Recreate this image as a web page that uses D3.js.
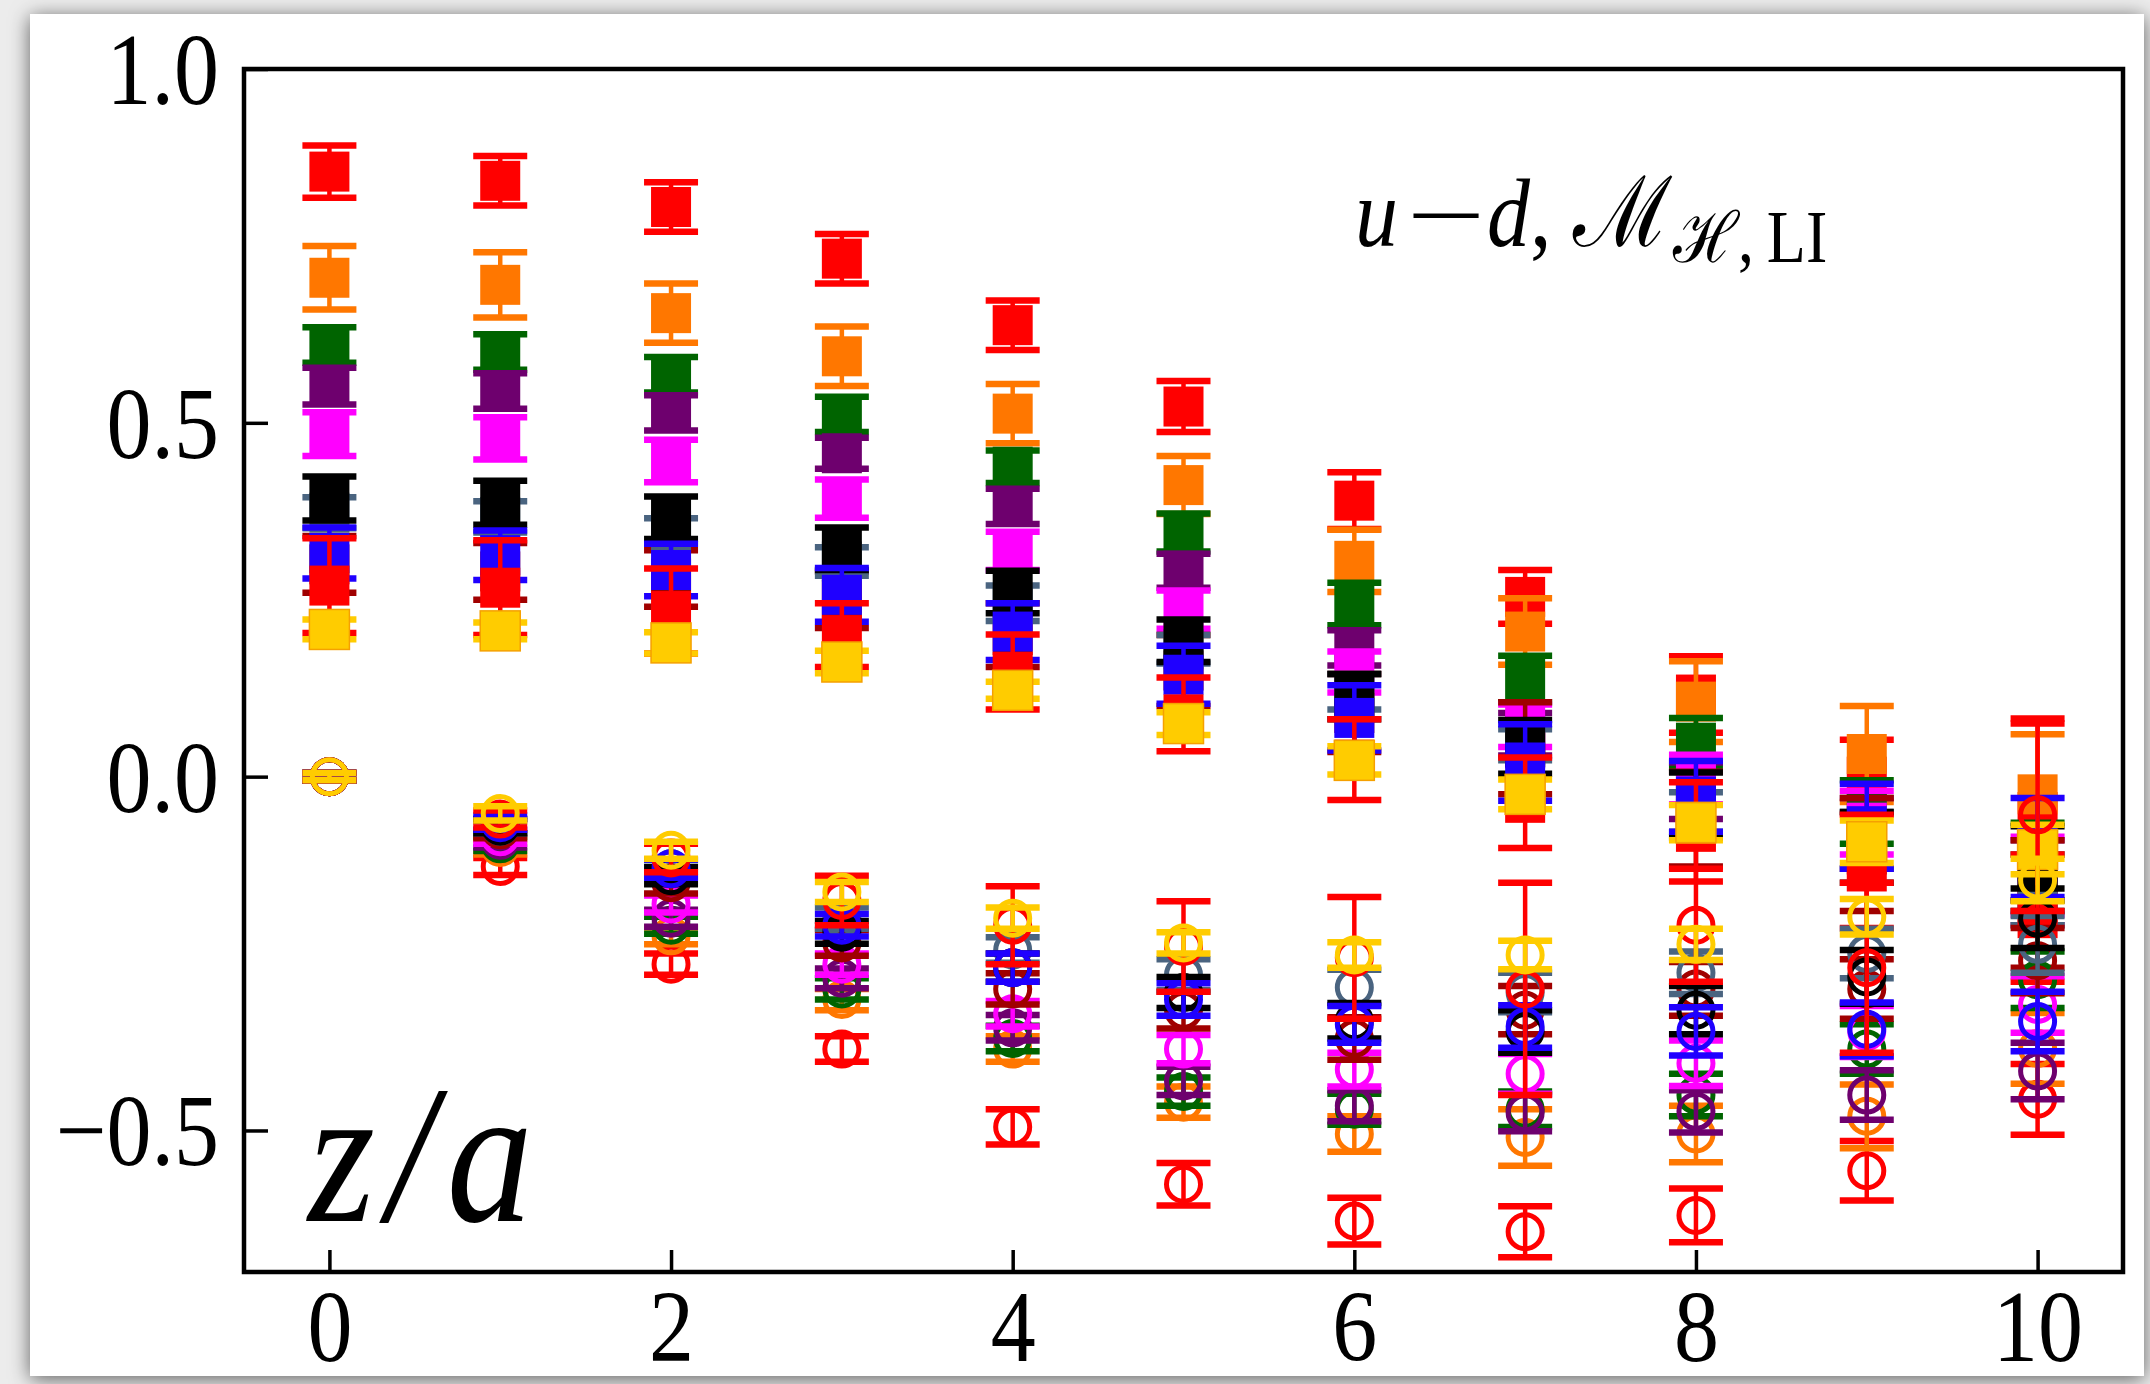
<!DOCTYPE html>
<html>
<head>
<meta charset="utf-8">
<script src="https://cdn.jsdelivr.net/npm/d3@7"></script>
<style>
  body { margin: 0; background: #ececec; }
  svg { display: block; }
  text { font-family: "Liberation Serif", "Times New Roman", serif; }
</style>
</head>
<body>
<div id="chart"></div>
<script>
// z/a positions
const zValues = [0, 1, 2, 3, 4, 5, 6, 7, 8, 9, 10];

// real parts (filled squares) and their errors, one pair per ensemble
const reRed1    = [0.855, 0.842, 0.805, 0.732, 0.638, 0.523, 0.39, 0.254, 0.116, 0.0, -0.05];
const reRed1Err = [0.037, 0.035, 0.035, 0.035, 0.035, 0.036, 0.04, 0.038, 0.054, 0.052, 0.125];
const reOrange    = [0.705, 0.695, 0.655, 0.594, 0.513, 0.412, 0.305, 0.205, 0.106, 0.032, -0.025];
const reOrangeErr = [0.045, 0.046, 0.042, 0.042, 0.042, 0.041, 0.044, 0.047, 0.057, 0.068, 0.085];
const reGreen    = [0.61, 0.6, 0.568, 0.512, 0.438, 0.345, 0.244, 0.138, 0.048, -0.05, -0.12];
const reGreenErr = [0.025, 0.025, 0.025, 0.025, 0.023, 0.027, 0.03, 0.033, 0.035, 0.045, 0.055];
const rePurple    = [0.552, 0.545, 0.514, 0.457, 0.382, 0.291, 0.182, 0.06, -0.02, -0.08, -0.15];
const rePurpleErr = [0.026, 0.025, 0.025, 0.022, 0.025, 0.024, 0.025, 0.03, 0.04, 0.05, 0.06];
const reMagenta    = [0.484, 0.478, 0.446, 0.393, 0.319, 0.236, 0.148, 0.072, -0.004, -0.065, -0.14];
const reMagentaErr = [0.031, 0.03, 0.03, 0.027, 0.027, 0.027, 0.029, 0.03, 0.035, 0.045, 0.055];
const reDarkRed    = [0.3, 0.29, 0.28, 0.25, 0.2, 0.15, 0.09, 0.04, -0.06, -0.11, -0.18];
const reDarkRedErr = [0.04, 0.04, 0.04, 0.04, 0.045, 0.05, 0.055, 0.065, 0.067, 0.08, 0.09];
const reSlate    = [0.373, 0.367, 0.347, 0.304, 0.245, 0.18, 0.12, 0.045, -0.05, -0.09, -0.16];
const reSlateErr = [0.022, 0.022, 0.018, 0.02, 0.025, 0.02, 0.025, 0.022, 0.028, 0.04, 0.05];
const reBlack    = [0.393, 0.387, 0.366, 0.322, 0.261, 0.192, 0.113, 0.042, -0.04, -0.1, -0.13];
const reBlackErr = [0.031, 0.031, 0.03, 0.03, 0.03, 0.03, 0.032, 0.038, 0.046, 0.05, 0.06];
const reBlue    = [0.316, 0.313, 0.292, 0.257, 0.205, 0.144, 0.083, 0.02, -0.028, -0.07, -0.1];
const reBlueErr = [0.036, 0.035, 0.037, 0.038, 0.04, 0.041, 0.046, 0.054, 0.05, 0.06, 0.07];
const reRed2    = [0.27, 0.267, 0.234, 0.2, 0.148, 0.088, 0.024, -0.037, -0.078, -0.134, -0.2];
const reRed2Err = [0.067, 0.067, 0.06, 0.045, 0.053, 0.052, 0.057, 0.064, 0.07, 0.08, 0.09];
const reGold    = [0.208, 0.206, 0.189, 0.162, 0.122, 0.075, 0.023, -0.025, -0.065, -0.092, -0.103];
const reGoldErr = [0.014, 0.012, 0.015, 0.016, 0.012, 0.016, 0.02, 0.021, 0.025, 0.03, 0.035];

// imaginary parts (open circles) and their errors
const imRed1    = [0, -0.127, -0.265, -0.385, -0.495, -0.576, -0.628, -0.643, -0.62, -0.557, -0.456];
const imRed1Err = [0.005, 0.012, 0.015, 0.018, 0.025, 0.03, 0.033, 0.036, 0.038, 0.042, 0.05];
const imOrange    = [0, -0.1, -0.225, -0.315, -0.385, -0.46, -0.505, -0.51, -0.505, -0.48, -0.384];
const imOrangeErr = [0.005, 0.01, 0.012, 0.015, 0.018, 0.022, 0.025, 0.04, 0.04, 0.045, 0.05];
const imGreen    = [0, -0.095, -0.21, -0.3, -0.37, -0.445, -0.47, -0.47, -0.45, -0.385, -0.287];
const imGreenErr = [0.005, 0.01, 0.012, 0.015, 0.018, 0.02, 0.022, 0.025, 0.03, 0.035, 0.04];
const imPurple    = [0, -0.09, -0.2, -0.285, -0.355, -0.43, -0.465, -0.475, -0.473, -0.45, -0.416];
const imPurpleErr = [0.005, 0.01, 0.012, 0.014, 0.018, 0.02, 0.022, 0.026, 0.03, 0.035, 0.04];
const imMagenta    = [0, -0.085, -0.18, -0.265, -0.335, -0.385, -0.414, -0.42, -0.405, -0.36, -0.322];
const imMagentaErr = [0.005, 0.01, 0.012, 0.015, 0.018, 0.02, 0.024, 0.028, 0.032, 0.036, 0.04];
const imDarkRed    = [0, -0.075, -0.15, -0.235, -0.3, -0.33, -0.37, -0.33, -0.3, -0.3, -0.26];
const imDarkRedErr = [0.005, 0.012, 0.015, 0.018, 0.022, 0.026, 0.03, 0.034, 0.038, 0.042, 0.046];
const imSlate    = [0, -0.07, -0.13, -0.2, -0.245, -0.28, -0.298, -0.305, -0.277, -0.25, -0.237];
const imSlateErr = [0.005, 0.01, 0.012, 0.015, 0.018, 0.022, 0.025, 0.028, 0.03, 0.035, 0.04];
const imBlack    = [0, -0.07, -0.14, -0.22, -0.27, -0.305, -0.345, -0.36, -0.33, -0.283, -0.2];
const imBlackErr = [0.005, 0.01, 0.012, 0.016, 0.02, 0.022, 0.025, 0.03, 0.034, 0.038, 0.042];
const imBlue    = [0, -0.065, -0.13, -0.21, -0.27, -0.315, -0.35, -0.353, -0.36, -0.357, -0.346];
const imBlueErr = [0.005, 0.01, 0.013, 0.016, 0.02, 0.023, 0.026, 0.03, 0.034, 0.038, 0.042];
const imRed2    = [0, -0.06, -0.115, -0.175, -0.21, -0.24, -0.256, -0.3, -0.21, -0.27, -0.054];
const imRed2Err = [0.005, 0.012, 0.02, 0.035, 0.055, 0.064, 0.086, 0.15, 0.08, 0.12, 0.136];
const imGold    = [0, -0.052, -0.104, -0.163, -0.2, -0.235, -0.252, -0.252, -0.237, -0.198, -0.146];
const imGoldErr = [0.005, 0.01, 0.012, 0.014, 0.015, 0.015, 0.018, 0.02, 0.022, 0.025, 0.03];

const yTicks = [-0.5, 0.0, 0.5, 1.0];
const xTicks = [0, 2, 4, 6, 8, 10];

// drawing order matters: later series sit on top
const seriesList = [
    { color: "#ff0000", re: reRed1, reErr: reRed1Err, im: imRed1, imErr: imRed1Err },
    { color: "#ff7700", re: reOrange, reErr: reOrangeErr, im: imOrange, imErr: imOrangeErr },
    { color: "#006400", re: reGreen, reErr: reGreenErr, im: imGreen, imErr: imGreenErr },
    { color: "#6e006e", re: rePurple, reErr: rePurpleErr, im: imPurple, imErr: imPurpleErr },
    { color: "#ff00ff", re: reMagenta, reErr: reMagentaErr, im: imMagenta, imErr: imMagentaErr },
    { color: "#a00000", re: reDarkRed, reErr: reDarkRedErr, im: imDarkRed, imErr: imDarkRedErr },
    { color: "#4a6480", re: reSlate, reErr: reSlateErr, im: imSlate, imErr: imSlateErr },
    { color: "#000000", re: reBlack, reErr: reBlackErr, im: imBlack, imErr: imBlackErr },
    { color: "#1f00ff", re: reBlue, reErr: reBlueErr, im: imBlue, imErr: imBlueErr },
    { color: "#ff0000", re: reRed2, reErr: reRed2Err, im: imRed2, imErr: imRed2Err },
    { color: "#ffcc00", re: reGold, reErr: reGoldErr, im: imGold, imErr: imGoldErr }
];

const width = 2150, height = 1384;
//plot frame
const frame = { left: 244, right: 2123, top: 69, bottom: 1272 };
//text in the picture is slightly stretched vertically
const stretch = 1.14;

const x = d3.scaleLinear().domain([-0.5, 10.5]).range([frame.left, frame.right]);
const y = d3.scaleLinear().domain([-0.7, 1.0]).range([frame.bottom, frame.top]);

const svg = d3.select("#chart")
    .append("svg")
        .attr("width", width)
        .attr("height", height);

//card with drop shadow
const defs = svg.append("defs");
const shadow = defs.append("filter")
    .attr("id", "card-shadow")
    .attr("x", "-5%").attr("y", "-5%")
    .attr("width", "110%").attr("height", "110%");
shadow.append("feDropShadow")
    .attr("dx", 0).attr("dy", 3)
    .attr("stdDeviation", 10)
    .attr("flood-color", "#000")
    .attr("flood-opacity", 0.6);

svg.append("rect")
    .attr("x", 30).attr("y", 14)
    .attr("width", 2114).attr("height", 1362)
    .attr("fill", "#fff")
    .attr("filter", "url(#card-shadow)");

//clip data to the frame
defs.append("clipPath").attr("id", "plot-clip")
    .append("rect")
        .attr("x", frame.left).attr("y", frame.top)
        .attr("width", frame.right - frame.left)
        .attr("height", frame.bottom - frame.top);

const dataLayer = svg.append("g").attr("clip-path", "url(#plot-clip)");

const capHalf = 27;
const squareSize = 40;
const circleR = 17;

function drawErrorbars(series, key, errKey, shape) {
    const rows = zValues.map((z, i) => ({ z: z, v: series[key][i], e: series[errKey][i] }));
    const g = dataLayer.append("g")
        .attr("fill", series.color)
        .attr("stroke", series.color);

    const pts = g.selectAll("g")
        .data(rows)
        .join("g");

    //vertical error line
    pts.append("line")
        .attr("x1", d => x(d.z)).attr("x2", d => x(d.z))
        .attr("y1", d => y(d.v + d.e)).attr("y2", d => y(d.v - d.e))
        .attr("stroke-width", 4.5);

    //caps
    [1, -1].forEach(sign => {
        pts.append("line")
            .attr("x1", d => x(d.z) - capHalf).attr("x2", d => x(d.z) + capHalf)
            .attr("y1", d => y(d.v + sign * d.e)).attr("y2", d => y(d.v + sign * d.e))
            .attr("stroke-width", 6.5);
    });

    if(shape === "square") {
        pts.append("rect")
            .attr("x", d => x(d.z) - squareSize / 2)
            .attr("y", d => y(d.v) - squareSize / 2)
            .attr("width", squareSize)
            .attr("height", squareSize)
            .attr("stroke", series.color === "#ffcc00" ? "#f5a000" : "none")
            .attr("stroke-width", 1.5);
    } else {
        pts.append("circle")
            .attr("cx", d => x(d.z))
            .attr("cy", d => y(d.v))
            .attr("r", circleR)
            .attr("fill", "none")
            .attr("stroke-width", 5);
    }
}

//real parts first, imaginary parts on top
seriesList.forEach(s => drawErrorbars(s, "re", "reErr", "square"));
seriesList.forEach(s => drawErrorbars(s, "im", "imErr", "circle"));

//axes, ticks pointing inward
const yAxis = d3.axisLeft(y)
    .tickValues(yTicks)
    .tickFormat(d3.format(".1f"))
    .tickSize(-24)
    .tickPadding(25);

const xAxis = d3.axisBottom(x)
    .tickValues(xTicks)
    .tickFormat(d3.format("d"))
    .tickSize(-22);

const yG = svg.append("g")
    .attr("transform", `translate(${frame.left},0)`)
    .call(yAxis);

const xG = svg.append("g")
    .attr("transform", `translate(0,${frame.bottom})`)
    .call(xAxis);

[yG, xG].forEach(g => {
    g.select(".domain").remove();
    g.selectAll(".tick line").attr("stroke", "#000").attr("stroke-width", 3.5);
    g.selectAll(".tick text")
        .attr("fill", "#000")
        .attr("font-size", 90)
        .attr("font-family", "'Liberation Serif', 'Times New Roman', serif");
});

yG.selectAll(".tick text")
    .attr("dy", "0.335em")
    .attr("transform", `scale(1,${stretch})`);

xG.selectAll(".tick text")
    .attr("y", 89 / stretch)
    .attr("dy", 0)
    .attr("transform", `scale(1,${stretch})`);

//frame
svg.append("rect")
    .attr("x", frame.left).attr("y", frame.top)
    .attr("width", frame.right - frame.left)
    .attr("height", frame.bottom - frame.top)
    .attr("fill", "none")
    .attr("stroke", "#000")
    .attr("stroke-width", 4.5);

//annotation: u - d, M_{H,LI}
const note = svg.append("g")
    .attr("transform", `translate(1355,246) scale(1,${stretch})`)
    .attr("fill", "#000");
note.append("text")
    .attr("font-size", 86)
    .attr("font-style", "italic")
    .text("u");
//long math minus
note.append("text")
    .attr("transform", "translate(91,0) scale(1.75,1)")
    .attr("font-size", 80)
    .attr("text-anchor", "middle")
    .text("\u2212");
const rest = note.append("text")
    .attr("x", 132)
    .attr("font-size", 86);
rest.append("tspan").attr("font-style", "italic").text("d");
rest.append("tspan").text(", ");
rest.append("tspan").attr("font-family", "'DejaVu Serif', serif").text("\u2133");
rest.append("tspan").attr("font-size", 62).attr("dy", 14)
    .attr("font-family", "'DejaVu Serif', serif").text("\u210B");
rest.append("tspan").attr("font-size", 64).text(",\u2009LI");

//axis label inside the frame
svg.append("text")
    .attr("transform", `translate(308,1221) scale(1,${stretch})`)
    .attr("font-size", 172)
    .attr("font-style", "italic")
    .attr("letter-spacing", 12)
    .attr("fill", "#000")
    .text("z/a");
</script>
</body>
</html>
